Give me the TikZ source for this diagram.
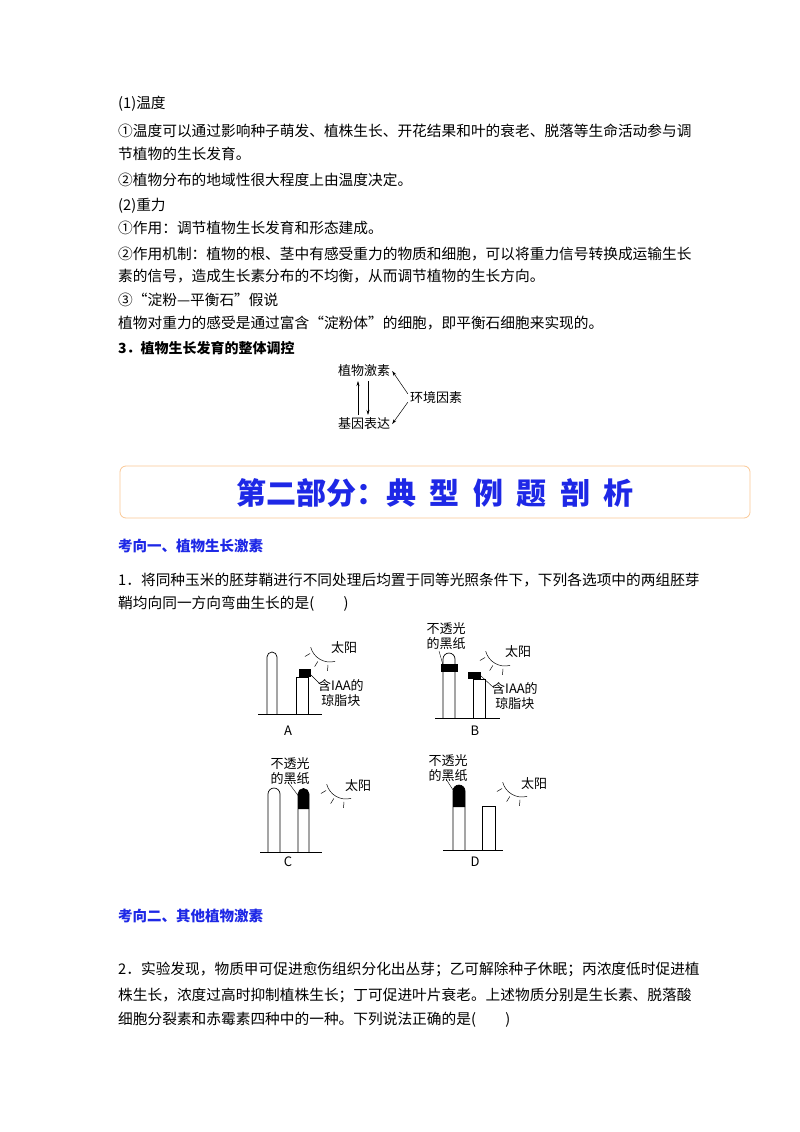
\documentclass[tikz,border=0pt]{standalone}
\usepackage{fontspec}
\setmainfont{Noto Sans CJK SC}
\usetikzlibrary{arrows.meta}
\definecolor{blu}{RGB}{30,40,230}
\definecolor{org}{RGB}{250,200,150}
\tikzset{
 tx/.style={anchor=west,inner sep=0pt,font=\fontsize{14.7}{14.7}\selectfont},
 hd/.style={anchor=west,inner sep=0pt,font=\fontsize{14.5}{14.5}\selectfont\bfseries,text=blu},
 sm/.style={inner sep=0pt,font=\fontsize{13}{15}\selectfont,align=center},
 ar/.style={-{Stealth[length=5pt,width=3pt]},line width=0.5pt},
 pl/.style={line width=0.7pt},
}
\newcommand{\sunat}[2]{\begin{scope}[shift={(#1,#2)},line width=0.5pt]
 \draw (75:20) arc (75:165:20);
 \foreach \a in {95,122,150} \draw (\a:23)--(\a:29);
 \end{scope}}
\begin{document}
\begin{tikzpicture}[x=1pt,y=-1pt]
\useasboundingbox (0,0) rectangle (800,1132);
\fill[white] (0,0) rectangle (800,1132);
\node[tx] (l1) at (118,104) {(1)温度};
\node[tx] (l2) at (118,131) {①温度可以通过影响种子萌发、植株生长、开花结果和叶的衰老、脱落等生命活动参与调};
\node[tx] (l3) at (118,154) {节植物的生长发育。};
\node[tx] (l4) at (118,180) {②植物分布的地域性很大程度上由温度决定。};
\node[tx] (l5) at (118,206) {(2)重力};
\node[tx] (l6) at (118,228) {①作用：调节植物生长发育和形态建成。};
\node[tx] (l7) at (118,254) {②作用机制：植物的根、茎中有感受重力的物质和细胞，可以将重力信号转换成运输生长};
\node[tx] (l8) at (118,276) {素的信号，造成生长素分布的不均衡，从而调节植物的生长方向。};
\node[tx] (l9) at (118,300) {③“淀粉—平衡石”假说};
\node[tx] (l10) at (118,323) {植物对重力的感受是通过富含“淀粉体”的细胞，即平衡石细胞来实现的。};
\node[tx,font=\fontsize{14}{14}\selectfont\bfseries] (l11) at (118,348) {3．植物生长发育的整体调控};
% small diagram
\node[sm] (zw) at (364,371) {植物激素};
\node[sm] (hj) at (436,398) {环境因素};
\node[sm] (jy) at (364,424) {基因表达};
\draw[ar] (358,415) -- (358,381);
\draw[ar] (368,381) -- (368,415);
\draw[ar] ([xshift=-2pt,yshift=-2pt]hj.north west) -- ([xshift=2pt]zw.east);
\draw[ar] ([xshift=-2pt,yshift=2pt]hj.south west) -- ([xshift=2pt]jy.east);
% banner
\draw[org,rounded corners=6pt,line width=0.8pt] (120,466) rectangle (750,518);
\node[inner sep=0pt,font=\fontsize{30}{30}\selectfont\bfseries,text=blu] (bn) at (435,493) {第二部分：典\hspace{0.45em}型\hspace{0.45em}例\hspace{0.45em}题\hspace{0.45em}剖\hspace{0.45em}析};
\node[hd] (k1) at (118,546) {考向一、植物生长激素};
\node[tx] (q1) at (118,580) {1．将同种玉米的胚芽鞘进行不同处理后均置于同等光照条件下，下列各选项中的两组胚芽};
\node[tx] (q1b) at (118,604) {鞘均向同一方向弯曲生长的是(\hspace{2em})};
% A
\draw[pl] (258,714)--(322,714);
\draw[pl] (267,714)--(267,657) arc (180:360:5) -- (277,714);
\draw[pl] (296,714)--(296,677)--(308,677)--(308,714);
\fill (299,669) rectangle (311,677);
\node[sm,anchor=north west] (aL) at (318,679) {含IAA的\\琼脂块};
\draw[line width=0.4pt] (311,675)--(320,684);
\sunat{330}{642}
\node[sm] (sA) at (344,648) {太阳};
\node[sm] (A) at (288,731) {A};
% B
\draw[pl] (435,718)--(500,718);
\draw[pl] (443,718)--(443,659) arc (180:360:6) -- (455,718);
\fill (441,664) rectangle (458,672);
\draw[pl] (473,718)--(473,679)--(485,679)--(485,718);
\fill (468,672) rectangle (481,679);
\node[sm] (bT) at (446,636) {不透光\\的黑纸};
\draw[line width=0.4pt] (443,665)--(439,651);
\node[sm,anchor=north west] (bL) at (492,682) {含IAA的\\琼脂块};
\draw[line width=0.4pt] (481,676)--(494,688);
\sunat{505}{646}
\node[sm] (sB) at (518,652) {太阳};
\node[sm] (B) at (475,731) {B};
% C
\draw[pl] (260,852)--(322,852);
\draw[pl] (268,852)--(268,794) arc (180:360:6) -- (280,852);
\draw[pl] (298,852)--(298,794) arc (180:360:5.5) -- (309,852);
\fill (298,809)--(298,794) arc (180:360:5.5) -- (309,809) -- cycle;
\node[sm] (cT) at (290,771) {不透光\\的黑纸};
\draw[line width=0.4pt] (288,782)--(300,798);
\sunat{346}{779}
\node[sm] (sC) at (358,786) {太阳};
\node[sm] (C) at (288,862) {C};
% D
\draw[pl] (443,850)--(503,850);
\draw[pl] (453,850)--(453,791) arc (180:360:6) -- (465,850);
\fill (453,807)--(453,791) arc (180:360:6) -- (465,807) -- cycle;
\draw[pl] (482,850)--(482,806)--(495,806)--(495,850);
\node[sm] (dT) at (448,768) {不透光\\的黑纸};
\draw[line width=0.4pt] (446,779)--(455,793);
\sunat{522}{777}
\node[sm] (sD) at (534,784) {太阳};
\node[sm] (D) at (475,862) {D};
\node[hd] (k2) at (118,916) {考向二、其他植物激素};
\node[tx] (q2) at (118,969) {2．实验发现，物质甲可促进愈伤组织分化出丛芽；乙可解除种子休眠；丙浓度低时促进植};
\node[tx] (q2b) at (118,995) {株生长，浓度过高时抑制植株生长；丁可促进叶片衰老。上述物质分别是生长素、脱落酸};
\node[tx] (q2c) at (118,1020) {细胞分裂素和赤霉素四种中的一种。下列说法正确的是(\hspace{2em})};
\end{tikzpicture}
\end{document}
